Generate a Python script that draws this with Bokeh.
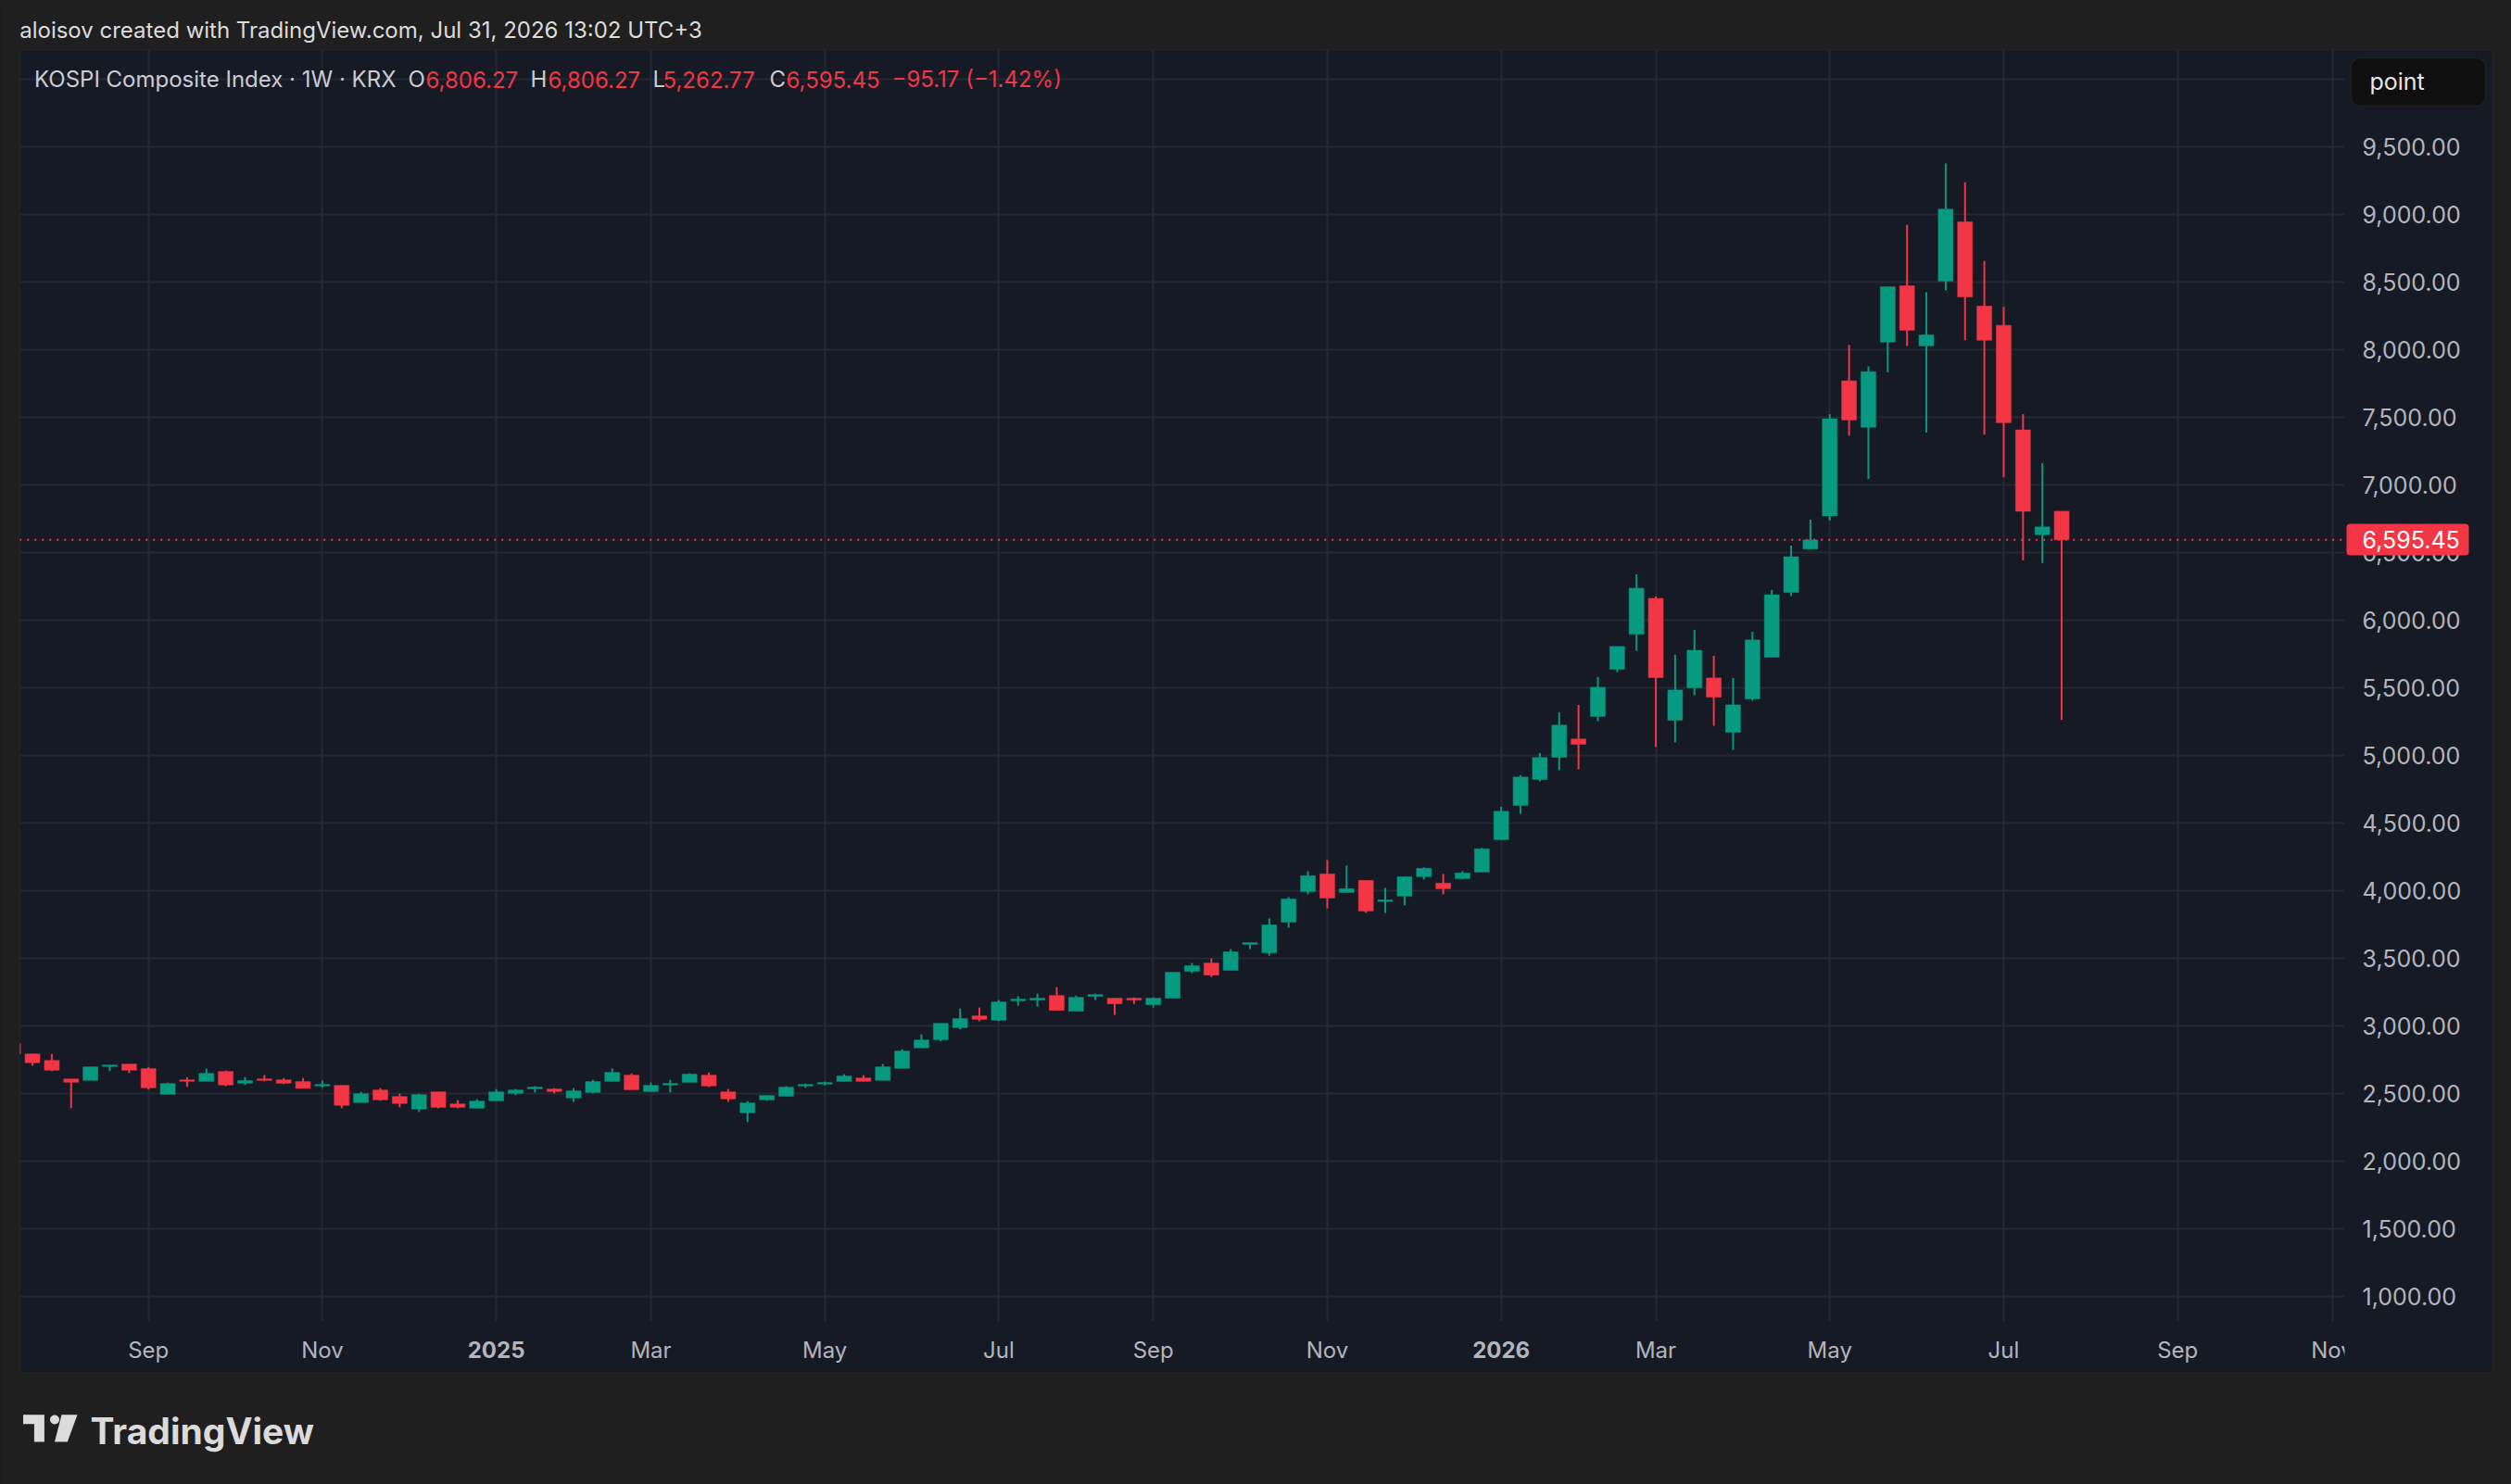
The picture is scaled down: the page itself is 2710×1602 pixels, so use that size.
import numpy as np
import pandas as pd
from bokeh.plotting import figure
from bokeh.models import (Range1d, LinearAxis, FixedTicker, NumeralTickFormatter, Label,
                          BoxAnnotation, PolyAnnotation, Grid, AllLabels, ColumnDataSource)
from bokeh.embed import file_html
from bokeh.resources import INLINE

# ---------------- data (weekly KOSPI candles) ----------------
first_week = "2024-07-15"
n_weeks = 107
opens = [2868, 2792, 2744, 2607, 2596, 2699, 2717, 2683, 2493, 2600,
         2589, 2662, 2575, 2607, 2600, 2587, 2555, 2559, 2432, 2525,
         2477, 2384, 2511, 2422, 2390, 2445, 2500, 2534, 2532, 2466,
         2507, 2589, 2635, 2514, 2562, 2582, 2635, 2511, 2356, 2452,
         2479, 2555, 2569, 2589, 2614, 2596, 2685, 2836, 2897, 2986,
         3073, 3041, 3185, 3190, 3224, 3108, 3217, 3204, 3204, 3156,
         3204, 3403, 3464, 3410, 3602, 3540, 3766, 3993, 4123, 3986,
         4075, 3920, 3959, 4103, 4055, 4089, 4137, 4377, 4630, 4822,
         4986, 5121, 5288, 5637, 5897, 6162, 5260, 5500, 5573, 5171,
         5418, 5726, 6205, 6527, 6772, 7771, 7427, 8057, 8474, 8029,
         8508, 8947, 8324, 8182, 7408, 6633, 6806.27]
highs = [2880, 2792, 2792, 2607, 2696, 2710, 2717, 2696, 2580, 2621,
         2683, 2669, 2621, 2635, 2614, 2614, 2594, 2559, 2511, 2539,
         2498, 2498, 2511, 2450, 2457, 2532, 2532, 2553, 2539, 2539,
         2600, 2683, 2648, 2580, 2600, 2648, 2655, 2532, 2443, 2484,
         2553, 2573, 2587, 2642, 2635, 2717, 2826, 2936, 3018, 3128,
         3135, 3190, 3217, 3238, 3286, 3224, 3238, 3204, 3210, 3210,
         3396, 3464, 3499, 3567, 3615, 3794, 3952, 4144, 4226, 4185,
         4075, 4020, 4103, 4171, 4123, 4144, 4316, 4621, 4854, 5018,
         5320, 5374, 5580, 5806, 6340, 6176, 5744, 5929, 5737, 5573,
         5915, 6224, 6552, 6744, 7524, 8037, 7878, 8468, 8925, 8426,
         9379, 9240, 8658, 8318, 7524, 7161, 6806.27]
lows = [2780, 2705, 2664, 2390, 2596, 2664, 2651, 2527, 2493, 2548,
        2589, 2553, 2562, 2589, 2569, 2537, 2541, 2390, 2432, 2445,
        2397, 2363, 2390, 2390, 2390, 2445, 2486, 2507, 2500, 2438,
        2500, 2589, 2527, 2514, 2507, 2582, 2548, 2438, 2288, 2445,
        2479, 2541, 2559, 2589, 2589, 2596, 2685, 2836, 2884, 2973,
        3034, 3034, 3149, 3142, 3114, 3108, 3190, 3080, 3162, 3135,
        3204, 3389, 3361, 3410, 3567, 3519, 3725, 3972, 3869, 3986,
        3835, 3835, 3890, 4082, 3972, 4082, 4137, 4377, 4568, 4808,
        4890, 4897, 5253, 5616, 5774, 5062, 5096, 5445, 5219, 5041,
        5404, 5726, 6178, 6527, 6738, 7365, 7045, 7833, 8029, 7388,
        8440, 8071, 7373, 7059, 6443, 6423, 5262.77]
closes = [2790, 2726, 2671, 2582, 2696, 2710, 2671, 2541, 2573, 2589,
          2648, 2562, 2594, 2596, 2575, 2537, 2566, 2411, 2498, 2452,
          2425, 2491, 2397, 2397, 2443, 2511, 2525, 2546, 2514, 2518,
          2587, 2655, 2527, 2559, 2573, 2642, 2555, 2459, 2429, 2484,
          2546, 2566, 2580, 2628, 2589, 2696, 2813, 2895, 3018, 3053,
          3048, 3176, 3197, 3204, 3114, 3210, 3231, 3162, 3190, 3204,
          3396, 3444, 3375, 3547, 3615, 3746, 3938, 4110, 3945, 4014,
          3849, 3931, 4103, 4165, 4014, 4130, 4309, 4587, 4840, 4984,
          5224, 5082, 5504, 5806, 6237, 5575, 5484, 5778, 5431, 5374,
          5854, 6189, 6470, 6594, 7490, 7481, 7839, 8468, 8145, 8111,
          9041, 8392, 8071, 7461, 6806.27, 6690.62, 6595.45]

x_tick_dates = ["2024-09-02", "2024-11-04", "2025-01-06", "2025-03-03", "2025-05-05",
                "2025-07-07", "2025-09-01", "2025-11-03", "2026-01-05", "2026-03-02",
                "2026-05-04", "2026-07-06", "2026-09-07", "2026-11-02"]
x_tick_labels = ["Sep", "Nov", "2025", "Mar", "May", "Jul", "Sep", "Nov",
                 "2026", "Mar", "May", "Jul", "Sep", "Nov"]
y_ticks = list(range(1000, 10001, 500))

last_close = closes[-1]
legend_name = "KOSPI Composite Index · 1W · KRX"
header_text = "aloisov created with TradingView.com, Jul 31, 2026 13:02 UTC+3"

# ---------------- colours ----------------
UP = "#089981"
DOWN = "#F23645"
PANE = "#161A25"
OUTER = "#1F1F1F"
GRID = "#242835"
AXIS_TXT = "#B2B5BE"
LEG_TXT = "#C9CCD4"
FONT = "Inter"

# ---------------- geometry helpers (page pixel -> data) ----------------
W, H = 2710, 1602
WEEK = 7 * 24 * 3600 * 1000.0
T_REF = pd.Timestamp("2024-09-02").value / 1e6
X_REF, PX_WEEK = 159.7, 20.857
Y_REF, PX_UNIT = 1398.7, 0.14593


def X(ox):
    return T_REF + (ox - X_REF) / PX_WEEK * WEEK


def Y(oy):
    return 1000 + (Y_REF - oy) / PX_UNIT


BOX_L, BOX_R, BOX_T, BOX_B = 20.7, 2690, 53.3, 1481.7
PANE_R, PANE_B = 2530, 1425.7

dates = pd.date_range(first_week, periods=n_weeks, freq="7D")
o = np.array(opens, float)
c = np.array(closes, float)
src = ColumnDataSource(dict(
    date=dates, open=o, high=np.array(highs, float), low=np.array(lows, float), close=c,
    top=np.maximum(o, c), bottom=np.minimum(o, c),
    color=[UP if cc >= oo else DOWN for oo, cc in zip(o, c)],
))

p = figure(frame_width=W, frame_height=H,
           min_border_left=0, min_border_right=0, min_border_top=0, min_border_bottom=0,
           x_range=Range1d(X(0), X(W)), y_range=Range1d(Y(H), Y(0)),
           x_axis_location=None, y_axis_location=None,
           toolbar_location=None, output_backend="svg",
           background_fill_color=PANE, border_fill_color=OUTER,
           outline_line_color=None)
p.center = [r for r in p.center if not isinstance(r, Grid)]

try:
    from bokeh.models import GlobalInlineStyleSheet
    p.stylesheets = [GlobalInlineStyleSheet(css="html, body { background-color: #1F1F1F; }")]
except Exception:
    pass

tick_ms = [pd.Timestamp(d).value / 1e6 for d in x_tick_dates]
overrides = {t: (lab if not lab.isdigit() else "") for t, lab in zip(tick_ms, x_tick_labels)}

xaxis = LinearAxis(ticker=FixedTicker(ticks=tick_ms), major_label_overrides=overrides,
                   major_label_policy=AllLabels(),
                   axis_line_color=None, major_tick_line_color=None, minor_tick_line_color=None,
                   major_tick_out=0, major_tick_in=0, major_label_standoff=-160,
                   major_label_text_color=AXIS_TXT, major_label_text_font=FONT,
                   major_label_text_font_size="24px")
p.add_layout(xaxis, "below")

yaxis = LinearAxis(ticker=FixedTicker(ticks=y_ticks), formatter=NumeralTickFormatter(format="0,0.00"),
                   major_label_policy=AllLabels(),
                   axis_line_color=None, major_tick_line_color=None, minor_tick_line_color=None,
                   major_tick_out=0, major_tick_in=0, major_label_standoff=int(2549 - W),
                   major_label_text_color=AXIS_TXT, major_label_text_font=FONT,
                   major_label_text_font_size="25px")
p.add_layout(yaxis, "right")

has_cb = "cross_bounds" in Grid.properties()
if has_cb:
    gx = Grid(dimension=0, ticker=xaxis.ticker, grid_line_color=GRID, grid_line_width=2,
              cross_bounds=(Y(PANE_B), Y(BOX_T)))
    gy = Grid(dimension=1, ticker=yaxis.ticker, grid_line_color=GRID, grid_line_width=2,
              cross_bounds=(X(BOX_L), X(PANE_R)))
    p.add_layout(gx)
    p.add_layout(gy)
else:
    p.segment(x0=tick_ms, x1=tick_ms, y0=[Y(PANE_B)] * len(tick_ms), y1=[Y(BOX_T)] * len(tick_ms),
              line_color=GRID, line_width=2, level="underlay")
    p.segment(x0=[X(BOX_L)] * len(y_ticks), x1=[X(PANE_R)] * len(y_ticks), y0=y_ticks, y1=y_ticks,
              line_color=GRID, line_width=2, level="underlay")

# candles
p.segment(x0="date", x1="date", y0="low", y1="high", color="color", line_width=2, source=src)
p.vbar(x="date", width=16 / PX_WEEK * WEEK, top="top", bottom="bottom",
       fill_color="color", line_color="color", line_width=0.5, source=src)

# last price dotted line
p.segment(x0=[X(BOX_L)], x1=[X(2528)], y0=[last_close], y1=[last_close],
          line_color=DOWN, line_width=2, line_dash="2 6")

# time-axis strip under the price scale hides the overflow of the last label
p.add_layout(BoxAnnotation(left=X(PANE_R), right=X(BOX_R), top=Y(PANE_B), bottom=Y(BOX_B),
                           fill_color=PANE, fill_alpha=1, line_color=None))

# outer page areas around the chart box + box border
for l, r, t, b in [(0, W, 0, BOX_T), (0, W, BOX_B, H), (0, BOX_L, 0, H), (BOX_R, W, 0, H)]:
    p.add_layout(BoxAnnotation(left=X(l), right=X(r), top=Y(t), bottom=Y(b),
                               fill_color=OUTER, fill_alpha=1, line_color=None))
p.add_layout(BoxAnnotation(left=X(BOX_L), right=X(BOX_R), top=Y(BOX_T), bottom=Y(BOX_B),
                           fill_color=None, fill_alpha=0, line_color="#2E2E2E", line_width=2))

# year labels on the time axis (bold)
for t, lab in zip(tick_ms, x_tick_labels):
    if lab.isdigit():
        p.add_layout(Label(x=t, y=Y(1456), text=lab, text_align="center", text_baseline="middle",
                           text_color=AXIS_TXT, text_font=FONT, text_font_size="24px",
                           text_font_style="bold"))

# price label
p.add_layout(BoxAnnotation(left=X(2532), right=X(2664), top=Y(565), bottom=Y(599),
                           fill_color=DOWN, fill_alpha=1, line_color=None, border_radius=4))
p.add_layout(Label(x=X(2549), y=last_close, text=f"{last_close:,.2f}", text_align="left",
                   text_baseline="middle", text_color="#FFFFFF", text_font=FONT,
                   text_font_size="25px"))

# "point" button
p.add_layout(BoxAnnotation(left=X(2537), right=X(2682), top=Y(62), bottom=Y(114),
                           fill_color="#0F0F0F", fill_alpha=1, line_color="#3A3A3A",
                           line_width=1.5, border_radius=10))
p.add_layout(Label(x=X(2557), y=Y(87), text="point", text_align="left", text_baseline="middle",
                   text_color="#E6E6E6", text_font=FONT, text_font_size="25px"))

# legend line
chg = closes[-2] - closes[-1]
legend_parts = [
    (36.5, legend_name, LEG_TXT),
    (440, "O", LEG_TXT), (459, f"{opens[-1]:,.2f}", DOWN),
    (572, "H", LEG_TXT), (591, f"{highs[-1]:,.2f}", DOWN),
    (704, "L", LEG_TXT), (715, f"{lows[-1]:,.2f}", DOWN),
    (830, "C", LEG_TXT), (848, f"{closes[-1]:,.2f}", DOWN),
    (962, f"\u2212{chg:.2f} (\u2212{chg / closes[-2] * 100:.2f}%)", DOWN),
]
for ox, txt, col in legend_parts:
    p.add_layout(Label(x=X(ox), y=Y(85), text=txt, text_align="left", text_baseline="middle",
                       text_color=col, text_font=FONT, text_font_size="24px"))

# header
p.add_layout(Label(x=X(20.7), y=Y(32), text=header_text, text_align="left", text_baseline="middle",
                   text_color="#DCDCDC", text_font=FONT, text_font_size="24px"))

# TradingView logo
LOGO = "#DBDBDB"
p.add_layout(PolyAnnotation(xs=[X(24.5), X(47.4), X(47.4), X(36.4), X(36.4), X(24.5)],
                            ys=[Y(1526.7), Y(1526.7), Y(1556), Y(1556), Y(1536.7), Y(1536.7)],
                            fill_color=LOGO, fill_alpha=1, line_color=None))
ang = np.linspace(0, 2 * np.pi, 24, endpoint=False)
p.add_layout(PolyAnnotation(xs=[X(58.5 + 5 * np.cos(a)) for a in ang],
                            ys=[Y(1532 + 5 * np.sin(a)) for a in ang],
                            fill_color=LOGO, fill_alpha=1, line_color=None))
p.add_layout(PolyAnnotation(xs=[X(66), X(83), X(72.3), X(58.5)],
                            ys=[Y(1526.7), Y(1526.7), Y(1556), Y(1556)],
                            fill_color=LOGO, fill_alpha=1, line_color=None))
p.add_layout(Label(x=X(97), y=Y(1544), text="TradingView", text_align="left", text_baseline="middle",
                   text_color=LOGO, text_font=FONT, text_font_size="39px", text_font_style="bold"))

open("out.html", "w").write(file_html(p, INLINE))
